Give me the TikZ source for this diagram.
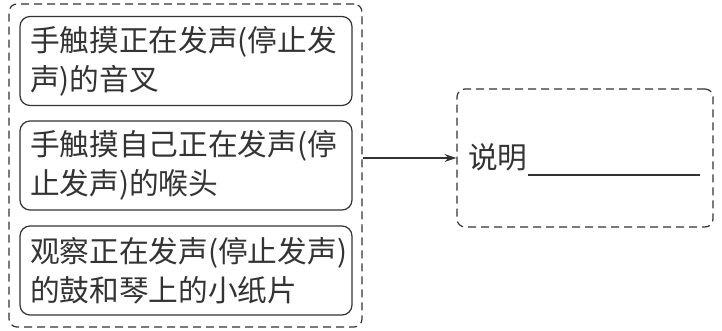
\documentclass[tikz,border=0pt]{standalone}
\usepackage{fontspec}
\setmainfont{Noto Sans CJK SC}
\usetikzlibrary{arrows.meta}
\definecolor{ink}{HTML}{333333}
\begin{document}
\begin{tikzpicture}[x=1pt,y=-1pt,
  every node/.style={text=ink},
  dashbox/.style={draw=ink, line width=1.2pt, dash pattern=on 8pt off 5pt, rounded corners=8pt, inner sep=0pt},
  itembox/.style={draw=ink, line width=1.2pt, rounded corners=10pt, minimum width=332pt, minimum height=89pt, inner sep=0pt, text width=312pt, align=left, font=\fontsize{29.7}{39}\selectfont}]
\useasboundingbox (0,0) rectangle (722,331);
\node[dashbox, minimum width=353pt, minimum height=323pt] (outer) at (185.5,165.5) {};
\node[itembox] (b1) at (186,61) {手触摸正在发声(停止发\\声)的音叉};
\node[itembox] (b2) at (186,165.5) {手触摸自己正在发声(停\\止发声)的喉头};
\node[itembox] (b3) at (186,270.5) {观察正在发声(停止发声)\\的鼓和琴上的小纸片};
\node[dashbox, minimum width=256pt, minimum height=138pt] (right) at (585,158) {};
\node[anchor=base west, inner sep=0pt, font=\fontsize{29.7}{39}\selectfont] (lbl) at (468,168) {说明};
\coordinate (u1) at (528,175);
\coordinate (u2) at (700,175);
\draw[ink, line width=1.2pt] (u1) -- (u2);
\draw[ink, line width=1.2pt, -{Stealth[length=12pt,width=8pt]}] (outer.east |- right.west) -- (right.west);
\end{tikzpicture}
\end{document}
